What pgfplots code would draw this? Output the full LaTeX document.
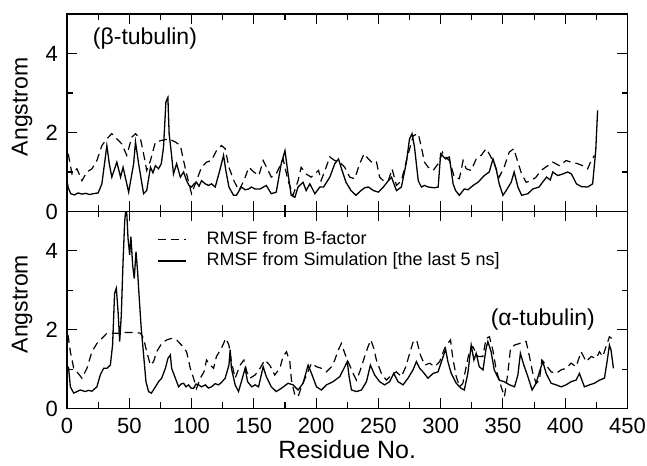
\documentclass[border=0pt]{standalone}
\usepackage{fontspec}
\setmainfont{Liberation Sans}
\usepackage{pgfplots}
\pgfplotsset{compat=1.18}
\begin{document}
\begin{tikzpicture}
\pgfplotsset{
  panel/.style={
    scale only axis, width=560.5bp, xmin=0, xmax=450, ymin=0, ymax=5,
    xtick={0,50,...,450}, minor x tick num=1,
    ytick={0,2,4}, minor y tick num=1,
    tick align=inside, major tick length=10bp, minor tick length=6bp,
    tick style={black, line width=1.1bp},
    axis line style={line width=1.3bp},
    ticklabel style={font=\fontsize{22bp}{25bp}\selectfont},
    /pgf/number format/assume math mode=true,
    yticklabel style={anchor=east, inner sep=0pt, xshift=-9bp},
    every axis y label/.style={at={(axis description cs:-0.08,0.53)}, rotate=90, anchor=center, font=\fontsize{23bp}{26bp}\selectfont},
  },
  bfac/.style={black, line width=1.2bp, dash pattern=on 8bp off 5bp},
  sim/.style={black, line width=1.3bp},
}
\begin{axis}[panel, at={(67bp,254.5bp)}, anchor=south west, height=197.5bp,
  xticklabels={}, ylabel={Angstrom}]
\addplot[bfac] coordinates {
(1,1.46)(4,0.95)(8,1.08)(12,0.78)(16,1.00)(20,1.08)(24,1.29)(28,1.67)(32,1.84)(36,1.97)
(40,1.84)(44,1.71)(48,1.42)(52,1.88)(55,1.97)(59,1.84)(61.5,1.46)(64,1.04)(67,1.29)(71,1.76)
(76,1.80)(81.6,1.84)(87,1.76)(91,1.67)(93.6,1.29)(96,0.95)(100,0.45)(103,0.70)(108,1.12)(112,1.25)
(116,1.29)(120,1.54)(124,1.67)(127,1.59)(130,1.12)(134,0.78)(138,0.53)(142,0.78)(146,1.12)(150,1.00)
(154,0.91)(156,1.12)(157.5,1.29)(161.5,1.04)(164,0.87)(168,0.95)(173.5,1.33)(177.5,0.78)(181.5,0.41)(185.5,0.78)
(188,1.12)(192,0.95)(196,0.87)(202,1.04)(204,0.78)(208,1.12)(211,1.38)(215,1.29)(219,1.25)(223,1.12)
(227,0.87)(231,0.83)(235,1.21)(238.5,1.46)(242,1.33)(246,1.21)(248.5,1.25)(251,0.87)(254,0.78)(258,0.78)
(261,1.08)(264.5,0.66)(268.5,0.78)(272.5,1.29)(278,1.92)(282,1.97)(284.5,1.63)(287,1.25)(290,1.12)(294,1.04)
(298,1.21)(301.5,1.50)(304,1.38)(307,1.29)(311,0.87)(315,0.83)(318,1.29)(320.5,1.08)(324.5,1.04)(328.5,1.33)
(332.5,1.42)(336.5,1.59)(339,1.46)(343,1.21)(347,0.87)(351,1.12)(355,1.50)(358.7,1.59)(362,1.25)(365,0.95)
(368.6,0.74)(372.6,0.78)(376.6,0.87)(380.6,1.04)(386,1.16)(390,1.25)(395.4,1.16)(400.7,1.29)(404.7,1.25)(410,1.21)
(414,1.16)(418,1.08)(420.8,1.29)(423.5,1.42)};
\addplot[sim] coordinates {
(0,0.78)(1,0.60)(3,0.45)(6,0.42)(9,0.47)(12,0.44)(15,0.46)(18,0.43)(21,0.45)(25,0.47)
(28,0.70)(32,1.67)(34,1.20)(36,0.87)(40,1.25)(43,0.87)(45,1.12)(49.5,0.49)(53.5,1.21)(55,1.76)
(57.5,1.21)(61.5,0.45)(64,0.53)(67,1.12)(69,0.98)(71,1.16)(73.5,1.08)(75.7,1.21)(77.5,1.63)(79.4,2.77)(81,2.89)
(82,1.97)(83.7,1.50)(85.5,0.95)(88,1.21)(91,0.87)(93.6,1.00)(96,0.78)(98,0.66)(100,0.62)(102,0.70)(104,0.74)(106,0.64)(108,0.78)
(111,0.70)(113.6,0.66)(116,0.70)(119,0.62)(123,1.08)(125.7,1.42)(127.5,1.04)(130,0.62)(133.7,0.41)(136,0.41)(140,0.62)(143,0.55)(146,0.57)
(148,0.62)(151,0.57)(155,0.57)(160,0.66)(164,0.45)(168,0.49)(172,1.21)(175,1.54)(177.5,0.95)(180,0.41)(183,0.36)
(185.5,0.62)(189.5,0.74)(192,0.53)(195,0.70)(199,0.45)(203,0.62)(206,0.62)(211,0.87)(215,1.21)(218,1.33)
(220,1.12)(224,0.74)(228,0.53)(232,0.41)(236,0.53)(239,0.60)(242,0.62)(246,0.53)(250,0.49)(254,0.62)(258,0.78)
(260.5,0.87)(264.5,0.53)(268.5,0.62)(272.5,1.25)(275,1.84)(277,1.97)(279,1.63)(282,0.78)(284.5,0.62)(287,0.66)(290,0.62)
(295,0.60)(298,0.62)(300,1.46)(304,1.33)(307,1.38)(310,0.70)(312,0.53)(315,0.41)(319,0.57)(322,0.55)(324.5,0.62)
(327,0.68)(330,0.74)(335,0.91)(339,1.00)(342,1.33)(344.5,1.08)(347,0.70)(350,0.41)(352.6,0.53)(356.6,0.74)(359,1.00)
(362,0.62)(365,0.41)(370,0.45)(374,0.57)(379,0.62)(382,0.75)(385,0.87)(388,0.80)(390,1.00)(394,0.91)(398,0.95)(402,1.00)
(405,0.95)(409,0.70)(413,0.63)(418,0.62)(422,0.70)(424.5,1.54)(426,2.56)};
\node[font=\fontsize{23bp}{26bp}\selectfont] at (axis cs:62.6,4.37) {(β-tubulin)};
\end{axis}
\begin{axis}[panel, at={(67bp,57.5bp)}, anchor=south west, height=197bp,
  ylabel={Angstrom}, xlabel={Residue No.},
  xticklabel style={anchor=base, yshift=-25bp},
  every axis x label/.style={at={(axis description cs:0.5,0)}, anchor=base, yshift=-50bp, font=\fontsize{25bp}{28bp}\selectfont},
  legend cell align=left,
  legend style={draw=none, fill=none, inner sep=0pt, at={(axis description cs:0.1607,0.906)}, anchor=north west,
    row sep=3.7bp, column sep=20bp, font=\fontsize{18bp}{20bp}\selectfont,
    nodes={inner sep=0pt, text height=14bp, text depth=4bp}},
  legend image code/.code={\draw[#1] (0bp,0bp) -- (28bp,0bp);}]
\addplot[bfac] coordinates {
(0.8,1.87)(2.7,1.44)(5.4,1.02)(9,0.89)(12,0.77)(16,1.02)(20,1.44)(24,1.65)(28,1.78)(32,1.91)
(36,1.91)(43,1.91)(47,1.93)(51,1.93)(55,1.93)(59,1.91)(61.5,1.78)(64,1.44)(67,1.10)(69.5,1.19)
(72,1.44)(76,1.65)(80,1.74)(84,1.78)(88,1.74)(92,1.61)(96,1.44)(99,1.02)(101.6,0.77)(104,0.51)
(107,0.77)(110,0.93)(112,1.23)(115,1.10)(117.7,1.02)(120,1.32)(124,1.53)(127.5,1.78)(130,1.61)(132,1.19)
(135,0.77)(139,1.10)(142,1.23)(144.4,0.93)(147,0.77)(151,0.85)(155,1.02)(158.8,1.23)(162.8,1.10)(166.8,0.85)
(170.9,1.02)(173.5,1.32)(176.2,1.44)(178.9,1.19)(180.2,0.72)(182.9,0.34)(185.5,0.30)(188.2,0.55)(192.3,0.85)(196.3,1.15)
(200.3,1.06)(204.3,1.02)(208.3,0.93)(212.3,1.06)(215,1.23)(217.7,1.48)(220.3,1.65)(223,1.40)(225.7,1.19)(229.7,0.89)
(232.4,0.72)(235,0.93)(239,1.32)(241.7,1.57)(243.9,1.74)(246.3,1.53)(248.4,1.23)(252.4,0.89)(256.4,0.72)(260.4,0.85)
(264.4,0.93)(268.5,0.81)(272,1.06)(275.1,1.40)(278.4,1.74)(281,1.70)(283.7,1.36)(287.2,1.10)(291.2,1.15)(295.2,1.06)
(299.2,1.19)(303.2,1.53)(305.8,1.65)(307.9,1.74)(309.8,1.27)(312.5,0.81)(315.2,0.55)(317.8,0.64)(320.5,1.06)(323.2,1.48)
(325.8,1.57)(329.9,1.32)(333.9,1.32)(336.5,1.78)(339.2,1.82)(341.9,1.48)(344.6,0.98)(348.6,0.55)(351.2,0.30)(353.9,0.89)
(356.1,1.53)(359.3,1.61)(363.3,1.65)(366,1.70)(368.6,1.70)(371.3,1.32)(374,0.89)(376.6,0.64)(379.3,0.72)(381.2,1.23)
(384.7,1.10)(388.7,0.93)(392.7,0.89)(396.7,0.98)(400.7,1.02)(404.7,1.15)(408.7,1.06)(412.8,1.44)(416.8,1.19)(420.8,1.32)
(424.8,1.27)(427.5,1.44)(430.1,1.32)(432.8,1.57)(435.5,1.82)(437.3,1.78)};
\addlegendentry{RMSF from B-factor}
\addplot[sim] coordinates {
(0,1.10)(1.3,1.02)(2.7,0.55)(5.4,0.39)(8,0.43)(10.7,0.47)(14.7,0.43)(17,0.46)(20,0.44)(24,0.55)(26.7,0.85)
(29.4,1.02)(32,1.02)(34.8,1.10)(36.6,1.61)(38.2,2.92)(39.6,3.05)(41,2.46)(42.3,1.70)(43.6,2.37)(45,3.73)
(46.3,4.74)(47.6,5.2)(49,4.32)(50.3,3.90)(51.3,4.36)(52.7,3.64)(54,3.30)(55.4,3.98)(56.7,3.47)(58,2.80)
(59.6,2.03)(61.5,1.36)(63.4,0.68)(65.5,0.43)(67.7,0.39)(71,0.55)(73.5,0.68)(76,0.77)(79,1.02)(81,1.27)
(83,1.36)(84,1.02)(87,0.77)(89.6,0.55)(91.5,0.62)(93.6,0.64)(95.5,0.55)(97.6,0.60)(99.5,0.52)(101.6,0.51)(103.5,0.62)(105.6,0.60)(108,0.55)(111,0.60)(113.5,0.52)(116,0.55)
(119,0.63)(121.7,0.60)(124,0.66)(127,0.77)(130,1.10)(131,1.49)(132,1.02)(135,0.60)(137.7,0.43)(140,0.68)(143,1.02)(145,0.68)
(148.4,0.55)(151,0.60)(153.8,0.55)(157.5,1.06)(160,0.81)(164,0.55)(168,0.43)(172,0.51)(177.5,0.64)(181.5,0.60)(185.5,0.47)
(189.5,0.64)(193.6,1.10)(196.3,0.89)(200.3,0.55)(204.3,0.47)(208.3,0.60)(213.6,0.68)(219,0.81)(223,1.06)(225,1.19)
(226.5,0.81)(228.4,0.47)(232.4,0.43)(236.4,0.47)(240.4,0.68)(243.6,1.10)(247,0.85)(251,0.68)(255,0.60)(259,0.68)
(262.3,0.89)(265.8,0.68)(269.8,0.60)(273.8,0.77)(277.8,0.98)(280.5,1.19)(283.2,1.02)(285.8,0.93)(289.8,0.77)(293.9,0.89)
(297.9,0.93)(301.9,1.31)(304,1.50)(305.8,1.19)(308.5,0.89)(312.5,0.64)(316.5,0.51)(319,0.47)(321.8,0.89)(324.5,1.61)
(326.7,1.23)(328.5,1.40)(331,1.06)(334,0.98)(336.5,1.53)(337.9,1.70)(340.5,1.44)(343,0.98)(347,0.72)(351,0.68)
(355.3,0.60)(359.3,0.55)(362,0.85)(364,1.40)(366.8,1.10)(370,0.81)(373.4,0.47)(376.6,0.64)(379.3,0.93)(382,1.19)
(384.7,0.89)(388.7,0.64)(392.7,0.60)(396.7,0.55)(400.7,0.60)(404.7,0.68)(408.7,0.72)(411.4,0.89)(415.4,0.55)(419.4,0.60)
(423.4,0.64)(427.5,0.72)(431.5,0.77)(433.6,1.19)(435.5,1.61)(436.8,1.48)(438.7,1.02)};
\addlegendentry{RMSF from Simulation [the last 5 ns]}
\node[font=\fontsize{23bp}{26bp}\selectfont] at (axis cs:382,2.27) {(α-tubulin)};
\end{axis}
\pgfresetboundingbox
\path (0bp,0bp) rectangle (647bp,466bp);
\end{tikzpicture}
\end{document}
